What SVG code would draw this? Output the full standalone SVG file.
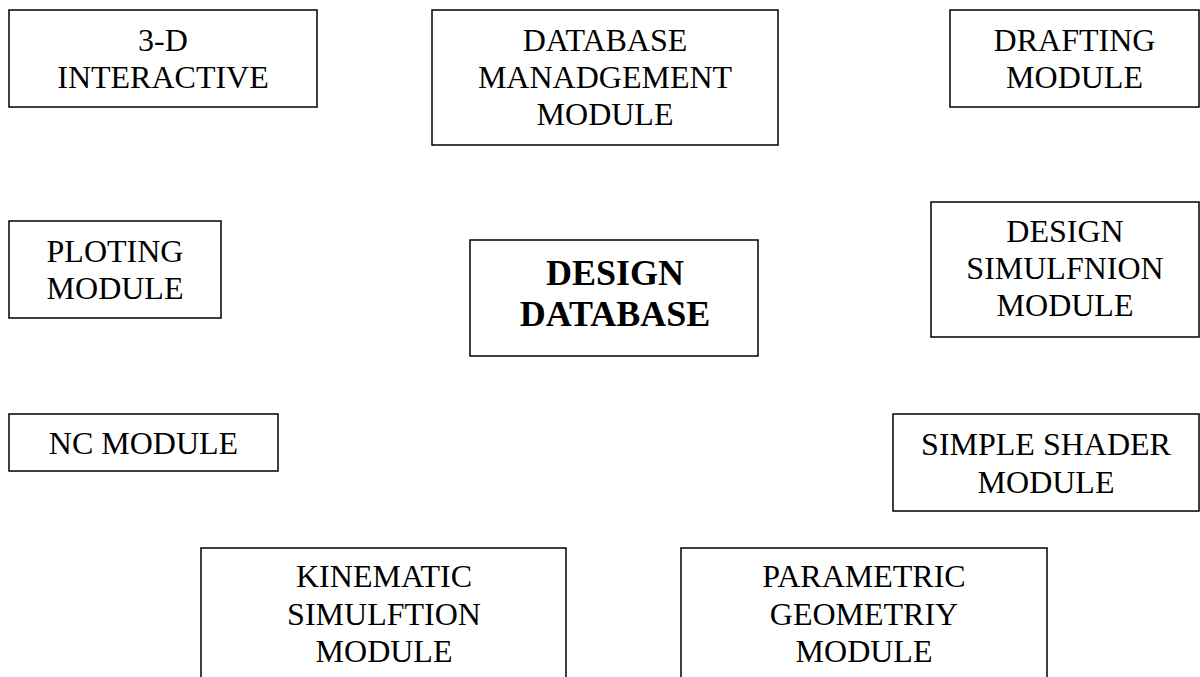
<svg xmlns="http://www.w3.org/2000/svg" width="1200" height="677" viewBox="0 0 1200 677">
  <style>
    .box { fill: #ffffff; stroke: #000000; stroke-width: 1.5; }
    .lbl { font-family: "Liberation Serif", "Times New Roman", serif; font-size: 32px; fill: #000000; text-anchor: middle; }
    .hub { font-family: "Liberation Serif", "Times New Roman", serif; font-size: 36px; font-weight: bold; fill: #000000; text-anchor: middle; }
  </style>
  <rect width="1200" height="677" fill="#ffffff"/>

  <!-- no connecting lines in this layout -->
  <g id="connectors"/>

  <g id="interactive-3d">
    <rect class="box" x="9" y="10" width="308" height="97"/>
    <text class="lbl" x="163" y="51">3-D</text>
    <text class="lbl" x="163" y="87.5">INTERACTIVE</text>
  </g>

  <g id="database-management">
    <rect class="box" x="432" y="10" width="346" height="135"/>
    <text class="lbl" x="605" y="51">DATABASE</text>
    <text class="lbl" x="605" y="88">MANADGEMENT</text>
    <text class="lbl" x="605" y="125">MODULE</text>
  </g>

  <g id="drafting">
    <rect class="box" x="950" y="10" width="249" height="97"/>
    <text class="lbl" x="1074.5" y="51">DRAFTING</text>
    <text class="lbl" x="1074.5" y="88">MODULE</text>
  </g>

  <g id="ploting">
    <rect class="box" x="9" y="221" width="212" height="97"/>
    <text class="lbl" x="115" y="262">PLOTING</text>
    <text class="lbl" x="115" y="298.5">MODULE</text>
  </g>

  <g id="design-database">
    <rect class="box" x="470" y="240" width="288" height="116"/>
    <text class="hub" x="615" y="284.5">DESIGN</text>
    <text class="hub" x="615" y="326">DATABASE</text>
  </g>

  <g id="design-simulation">
    <rect class="box" x="931" y="202" width="268" height="135"/>
    <text class="lbl" x="1065" y="241.5">DESIGN</text>
    <text class="lbl" x="1065" y="278.5">SIMULFNION</text>
    <text class="lbl" x="1065" y="315.5">MODULE</text>
  </g>

  <g id="nc">
    <rect class="box" x="9" y="414" width="269" height="57"/>
    <text class="lbl" x="143.5" y="453.5">NC MODULE</text>
  </g>

  <g id="simple-shader">
    <rect class="box" x="893" y="414" width="306" height="97"/>
    <text class="lbl" x="1046" y="455">SIMPLE SHADER</text>
    <text class="lbl" x="1046" y="492.5">MODULE</text>
  </g>

  <g id="kinematic-simulation">
    <rect class="box" x="201" y="548" width="365" height="160"/>
    <text class="lbl" x="384" y="587">KINEMATIC</text>
    <text class="lbl" x="384" y="624.5">SIMULFTION</text>
    <text class="lbl" x="384" y="662">MODULE</text>
  </g>

  <g id="parametric-geometry">
    <rect class="box" x="681" y="548" width="366" height="160"/>
    <text class="lbl" x="864" y="587">PARAMETRIC</text>
    <text class="lbl" x="864" y="624.5">GEOMETRIY</text>
    <text class="lbl" x="864" y="662">MODULE</text>
  </g>
</svg>
